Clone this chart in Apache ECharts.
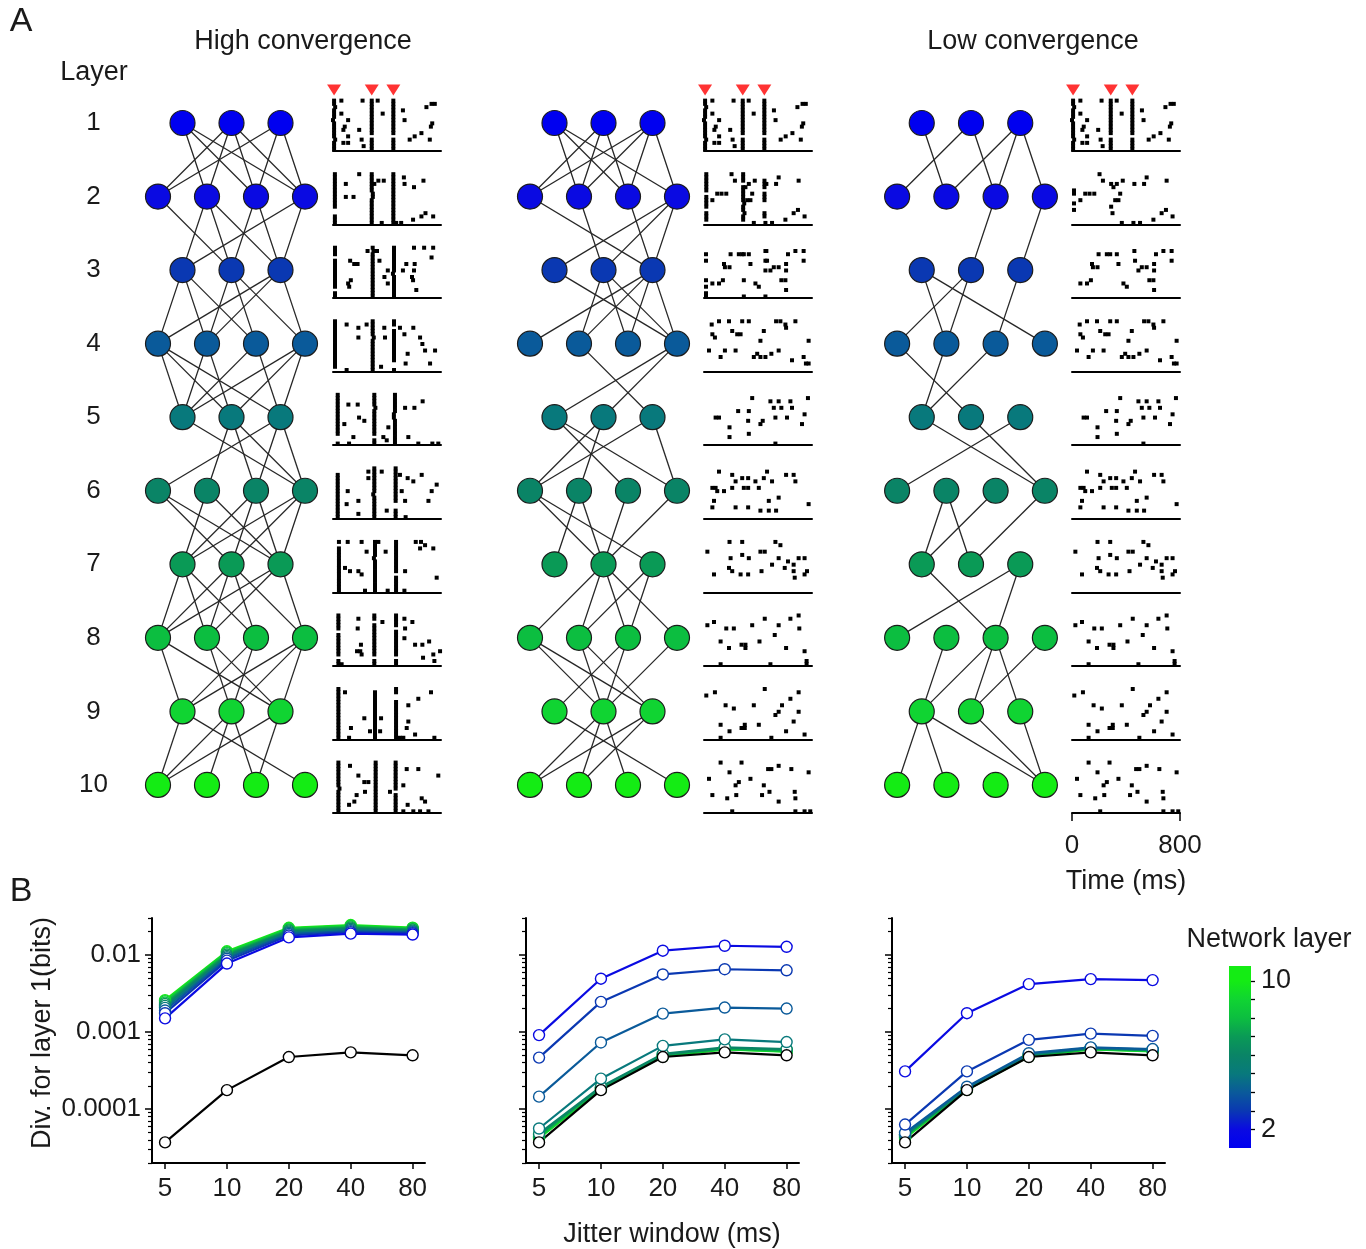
<!DOCTYPE html>
<html>
<head>
<meta charset="utf-8">
<script src="https://cdn.jsdelivr.net/npm/echarts@6/dist/echarts.min.js"></script>
<style>
  html, body { margin: 0; padding: 0; background: #fff; }
  #chart { width: 1366px; height: 1249px; }
</style>
</head>
<body>
<div id="chart"></div>
<script>
// ---------------- data ----------------
const layers = [1, 2, 3, 4, 5, 6, 7, 8, 9, 10];
const nodeCounts = [3, 4, 3, 4, 3, 4, 3, 4, 3, 4];
const layerColors = ['#0000f0', '#0a0ae2', '#0a38b2', '#0a5a9a', '#08797c',
                     '#0a8466', '#0a9a56', '#0cbe40', '#10d432', '#14ec14'];

// connections between consecutive layers: [from node, to node], one list per layer pair
const highEdges = [
  [[0,1],[0,2],[0,3],[1,0],[1,1],[1,2],[1,3],[2,0],[2,2],[2,3]],
  [[0,1],[1,0],[1,1],[1,2],[2,1],[2,2],[3,0],[3,2]],
  [[0,0],[0,1],[0,2],[1,1],[1,2],[1,3],[2,0],[2,1],[2,3]],
  [[0,0],[0,1],[0,2],[1,0],[1,1],[2,0],[2,2],[3,0],[3,1],[3,2]],
  [[0,3],[1,1],[1,2],[1,3],[2,0],[2,2],[2,3]],
  [[0,1],[0,2],[1,0],[1,2],[2,0],[2,1],[2,2],[3,0],[3,1],[3,2]],
  [[0,0],[0,1],[0,2],[1,0],[1,1],[1,2],[1,3],[2,0],[2,1],[2,3]],
  [[0,0],[0,2],[1,1],[1,2],[2,0],[2,1],[3,0],[3,1],[3,2]],
  [[0,0],[0,3],[1,0],[1,1],[1,2],[2,0],[2,2]]
];
const midEdges = [
  [[0,1],[0,2],[0,3],[1,0],[1,1],[1,2],[2,0],[2,1],[2,2],[2,3]],
  [[0,2],[1,1],[2,2],[3,0],[3,1],[3,2]],
  [[0,3],[1,1],[1,2],[1,3],[2,0],[2,1],[2,2],[2,3]],
  [[1,2],[3,0],[3,1]],
  [[0,2],[0,3],[1,0],[1,1],[2,0],[2,3]],
  [[0,1],[0,2],[1,0],[1,1],[2,1],[3,1]],
  [[1,0],[1,1],[1,2],[1,3],[2,1],[2,2]],
  [[0,1],[0,2],[1,1],[1,2],[2,0],[2,1],[3,1]],
  [[0,3],[1,0],[1,1],[1,2],[2,0],[2,1]]
];
const lowEdges = [
  [[0,1],[1,0],[1,2],[2,1],[2,2],[2,3]],
  [[2,1],[3,2]],
  [[0,1],[0,3],[1,0],[1,1],[2,2]],
  [[0,1],[1,0],[2,0]],
  [[0,3],[1,3],[2,0]],
  [[1,0],[1,1],[2,0],[3,1]],
  [[0,2],[2,0],[2,2]],
  [[1,0],[2,0],[2,1],[2,2],[3,1]],
  [[0,0],[0,1],[0,3],[1,3],[2,3]]
];

// stimulus times (ms)
const stimTimes = [8, 287, 447];

// synchronous volleys: times per layer, and per-trial strings (top trial first)
// 'x' spike at volley time, '<' 8 ms early, '>' 8 ms late, '.' no spike
const highVolleyTimes = [
  [8,287,447],[14,287,447],[15,294,452],[15,294,452],[35,306,459],
  [35,306,464],[44,311,467],[40,306,467],[40,311,467],[40,316,464]
];
const highVolleyTrials = [
  ['xx>xxx<xxxxx>xxx','xxxxxxxxxxx.xxxx','xxxxxxxxxxx.xxxx'],
  ['xxxxxxxxxxx..xxx','xxxxxx>>xxxxxxxx','xxxxxxxxxxxxxxxx'],
  ['xxx.xxxxxxxxx.xx','x>xxxxxxxxxxxxxx','xxxxxxxx<xxxxxxx'],
  ['xxxxxxxxxxxxxxx.','xxxxx>xxxxxxxxxx','xx.xxxxxxxxxx..x'],
  ['xxxxxxxxxxxxx..x','xxxx>xxxxxxxx.xx','xxxxxx<<xxxxxxxx'],
  ['..xxxxxxxxxxxxxx','xxxxxxxx<xxxxxxx','xxxxxxxxxxx..xxx'],
  ['x.xxxxxxxxxxxxxx','xxxxx<xxxxxxxxxx','xxxxxxxxxx.xxxxx'],
  ['xxxxx.xxxxxxx.xx','xx.xxxxxxxxxx.xx','xxxx.xxxxxxxx.xx'],
  ['xxxxxxxxxxxxxxxx','.xxxxxxxxxxxxxxx','xx..xxxxxxxxxxxx'],
  ['xxxxxxxx>xxxxxxx','xxxxxxxxxxxxxxxx','xxxxxxxxx.xxxxxx']
];
const midVolleyTimes = [[8,287,447],[17,290,448],[15,295,455]];
const midVolleyTrials = [
  ['xx>xxx<xxxxx>xxx','xxxxxxxxxxx.xxxx','xxxxxxxxxxx.xxxx'],
  ['xxxxxx.xxxx.xxx.','xxx.xxxxx>xx.xx.','..xxx.xxx...xx..'],
  ['..x.x.....x.x.xx','..x.......x....x','.x..x..x.......x']
];
const lowVolleyTimes = [[8,287,447],[15,290,450]];
const lowVolleyTrials = [
  ['xx>xxx<xxxxx>xxx','xxxxxxxxxxx.xxxx','xxxxxxxxxxx.xxxx'],
  ['.....xx..x.x....','...x......x.....','................']
];

// remaining spikes [time ms, trial]
const layer1Spikes = [[62,15],[62,11],[77,6],[87,7],[112,9],[112,4],[77,2],[112,2],[194,6],[212,3],
  [227,1],[219,15],[331,15],[368,11],[530,9],[518,12],[692,13],[730,14],[754,14],[735,8],[725,7],
  [655,5],[605,4],[568,3],[717,3]];
const highSpikes = [
  [[95,12],[95,8],[152,8],[194,15],[306,12],[336,13],[376,13],[361,0],[468,0],[505,0],[530,12],[525,14],[593,1],[655,2],[685,3],[742,2],[670,13],[600,11]],
  [[256,14],[301,14],[326,14],[127,11],[157,10],[182,10],[132,5],[112,4],[120,3],[344,11],[406,8],[381,6],[406,4],[543,10],[518,8],[600,15],[605,10],[600,8],[585,6],[593,5],[617,2],[675,15],[742,15],[730,12]],
  [[101,14],[188,13],[249,14],[188,10],[380,13],[385,10],[496,13],[529,11],[595,13],[645,10],[662,8],[682,6],[756,6],[553,5],[538,2],[719,2],[101,0],[356,1]],
  [[114,12],[183,12],[534,11],[603,11],[664,13],[232,7],[193,8],[84,6],[151,2],[119,0],[373,2],[398,1],[558,2],[410,5],[632,0],[736,0],[780,0]],
  [[262,14],[361,14],[262,12],[109,8],[101,4],[188,5],[188,1],[398,2],[496,13],[553,12],[595,11],[657,13],[731,8],[509,8],[534,5],[707,5],[768,10],[538,0]],
  [[109,15],[212,15],[249,12],[89,7],[126,6],[188,6],[212,5],[237,0],[405,0],[390,12],[336,15],[613,15],[652,15],[682,14],[645,13],[743,13],[534,6],[768,4],[529,0]],
  [[188,14],[183,11],[207,6],[178,4],[202,4],[212,3],[64,0],[366,13],[529,14],[588,13],[534,11],[529,8],[608,6],[662,6],[712,7],[667,2],[743,3],[751,1],[793,4]],
  [[89,14],[232,6],[133,3],[119,0],[274,2],[356,6],[349,2],[558,5],[546,3],[558,10],[632,12],[726,14],[608,1],[751,0],[496,0],[521,0]],
  [[126,14],[188,11],[232,9],[262,9],[175,5],[158,3],[119,2],[237,6],[422,6],[546,13],[632,13],[780,11],[521,8],[657,4],[682,3],[553,2],[521,0],[595,0],[645,0],[707,0]]
];
const lowSpikes = [
  [[204,15],[229,13],[332,12],[376,13],[307,11],[320,7],[344,7],[357,9],[300,3],[369,0],[462,12],[534,12],[553,14],[701,13],[62,7],[98,9],[130,9],[165,9],[455,0],[504,0],[603,1],[664,3],[696,4],[745,2]],
  [[148,10],[197,13],[258,13],[283,13],[332,13],[344,10],[462,14],[467,11],[492,8],[517,9],[553,9],[608,10],[608,8],[622,13],[677,14],[738,14],[738,11],[62,4],[111,4],[140,5],[381,4],[406,3],[573,5],[603,5],[608,2],[155,9],[189,9]],
  [[57,14],[111,15],[185,15],[283,15],[332,15],[534,15],[566,15],[603,14],[608,13],[677,15],[62,11],[81,10],[209,12],[246,11],[271,11],[443,12],[418,9],[37,6],[123,4],[155,6],[234,6],[369,4],[394,5],[418,4],[455,4],[499,5],[553,6],[652,3],[738,4],[755,2],[775,2],[775,9]],
  [[357,14],[492,13],[553,13],[640,13],[770,14],[517,11],[573,11],[652,11],[253,10],[332,10],[111,8],[86,8],[327,7],[529,8],[745,9],[726,6],[189,5],[418,6],[332,3],[189,2],[529,0],[435,7],[615,8]],
  [[111,14],[209,13],[234,11],[283,12],[327,12],[381,11],[443,12],[467,14],[504,11],[608,13],[664,13],[677,11],[62,9],[86,9],[98,8],[148,8],[209,9],[295,9],[327,9],[406,9],[480,5],[553,6],[74,5],[62,3],[234,3],[327,3],[418,2],[480,2],[534,2],[775,4]],
  [[25,12],[189,15],[283,15],[529,15],[566,14],[283,11],[332,10],[197,10],[418,12],[450,12],[553,10],[185,7],[209,6],[504,8],[622,9],[664,8],[701,10],[745,10],[664,6],[763,6],[74,5],[271,5],[327,5],[426,6],[598,7],[672,4],[745,5]],
  [[25,12],[74,13],[165,11],[221,11],[357,12],[450,14],[553,12],[640,14],[701,15],[706,11],[524,9],[123,7],[185,5],[278,6],[307,6],[307,5],[411,7],[492,0],[608,5],[745,4],[123,0],[760,1],[760,0]],
  [[17,13],[81,14],[160,10],[221,9],[369,10],[450,15],[553,8],[578,10],[640,12],[701,14],[701,8],[529,7],[123,4],[189,2],[278,3],[302,4],[302,3],[406,4],[499,0],[608,2],[745,1],[123,0],[664,5]],
  [[123,15],[278,15],[37,10],[189,12],[234,8],[258,9],[344,10],[475,13],[499,13],[553,14],[647,13],[775,12],[62,5],[172,4],[239,5],[443,8],[485,6],[430,5],[672,6],[677,4],[553,3],[209,0],[677,0],[745,0],[787,0]]
];
const timeTicks = [0, 800];

// divergence (bits) vs jitter window
const jitterWindows = [5, 10, 20, 40, 80];
const baselineDiv = [3.7e-5, 1.76e-4, 4.73e-4, 5.44e-4, 4.98e-4];
const highDiv = [
  [0.00150, 0.0077, 0.0168, 0.0188, 0.0183],
  [0.00175, 0.0084, 0.0178, 0.0196, 0.0190],
  [0.00190, 0.0089, 0.0186, 0.0203, 0.0196],
  [0.00205, 0.0093, 0.0193, 0.0210, 0.0201],
  [0.00218, 0.0097, 0.0200, 0.0218, 0.0206],
  [0.00230, 0.0101, 0.0207, 0.0225, 0.0212],
  [0.00240, 0.0105, 0.0213, 0.0232, 0.0217],
  [0.00250, 0.0108, 0.0219, 0.0238, 0.0221],
  [0.00258, 0.0111, 0.0224, 0.0243, 0.0225]
];
const midDiv = [
  [9.1e-4, 4.9e-3, 1.13e-2, 1.31e-2, 1.27e-2],
  [4.65e-4, 2.45e-3, 5.56e-3, 6.5e-3, 6.3e-3],
  [1.45e-4, 7.3e-4, 1.73e-3, 2.07e-3, 2.01e-3],
  [5.6e-5, 2.48e-4, 6.6e-4, 8.0e-4, 7.4e-4],
  [4.8e-5, 1.95e-4, 5.2e-4, 6.3e-4, 6.0e-4],
  [4.6e-5, 1.9e-4, 5.05e-4, 6.15e-4, 5.85e-4],
  [4.4e-5, 1.86e-4, 4.95e-4, 6.05e-4, 5.7e-4],
  [4.3e-5, 1.83e-4, 4.9e-4, 6.0e-4, 5.6e-4],
  [4.2e-5, 1.8e-4, 4.8e-4, 5.95e-4, 5.55e-4]
];
const lowDiv = [
  [3.08e-4, 1.75e-3, 4.17e-3, 4.84e-3, 4.70e-3],
  [6.3e-5, 3.08e-4, 7.9e-4, 9.5e-4, 8.9e-4],
  [4.9e-5, 1.95e-4, 5.3e-4, 6.3e-4, 6.0e-4],
  [4.7e-5, 1.9e-4, 5.15e-4, 6.2e-4, 5.9e-4],
  [4.6e-5, 1.87e-4, 5.05e-4, 6.15e-4, 5.85e-4],
  [4.5e-5, 1.85e-4, 5.0e-4, 6.1e-4, 5.8e-4],
  [4.4e-5, 1.83e-4, 4.9e-4, 6.05e-4, 5.7e-4],
  [4.3e-5, 1.8e-4, 4.85e-4, 6.0e-4, 5.65e-4],
  [4.2e-5, 1.78e-4, 4.8e-4, 5.95e-4, 5.6e-4]
];
const divMajorTicks = [1e-4, 1e-3, 1e-2];
const divMinorTicks = [2e-5, 3e-5, 4e-5, 5e-5, 6e-5, 7e-5, 8e-5, 9e-5,
  2e-4, 3e-4, 4e-4, 5e-4, 6e-4, 7e-4, 8e-4, 9e-4,
  2e-3, 3e-3, 4e-3, 5e-3, 6e-3, 7e-3, 8e-3, 9e-3, 2e-2, 3e-2];
const colorbarTicks = [2, 3, 4, 5, 6, 7, 8, 9, 10];
const colorbarLabels = [2, 10];

// ---------------- layout ----------------
const FONT = 'Arial, "Liberation Sans", Helvetica, sans-serif';
const INK = '#1a1a1a';
const TICK_FS = 26, NAME_FS = 27;
const LAYER_TOP = 123, LAYER_STEP = 73.55;
const layerY = L => LAYER_TOP + (L - 1) * LAYER_STEP;
const columns = [
  { netLeft: 133.5, netWidth: 196, rasterLeft: 333, edges: highEdges },
  { netLeft: 505.5, netWidth: 196, rasterLeft: 704, edges: midEdges },
  { netLeft: 872.5, netWidth: 197, rasterLeft: 1072, edges: lowEdges }
];
const RASTER_W = 108;

const grids = [], xAxes = [], yAxes = [], series = [];
function addGrid(g, xa, ya) {
  grids.push(Object.assign({ outerBoundsMode: 'none', containLabel: false }, g));
  const gi = grids.length - 1;
  xa.gridIndex = gi; ya.gridIndex = gi;
  xAxes.push(xa); yAxes.push(ya);
  return { g: gi, x: xAxes.length - 1, y: yAxes.length - 1 };
}
const hidden = extra => Object.assign({ show: false }, extra);

function volleySpikes(times, trialStrings) {
  const out = [];
  trialStrings.forEach((s, e) => {
    for (let i = 0; i < s.length; i++) {
      const ch = s[i];
      if (ch === '.') continue;
      const shift = ch === '<' ? -8 : ch === '>' ? 8 : 0;
      out.push([times[e] + shift, s.length - 1 - i]);
    }
  });
  return out;
}

columns.forEach((col, ci) => {
  // ---- network diagram ----
  const isFirst = ci === 0;
  const net = addGrid(
    { left: col.netLeft, top: LAYER_TOP - LAYER_STEP / 2, width: col.netWidth, height: LAYER_STEP * 10 },
    hidden({ type: 'value', min: -0.5, max: 3.5 }),
    {
      type: 'value', min: 0.5, max: 10.5, inverse: true, show: isFirst,
      axisLine: { show: false }, axisTick: { show: false }, splitLine: { show: false },
      axisLabel: { show: isFirst, customValues: layers, margin: 40, align: 'center',
        fontSize: TICK_FS, fontFamily: FONT, color: INK }
    }
  );
  const nodeX = (L, i) => i + (nodeCounts[L - 1] === 3 ? 0.5 : 0);
  const links = [];
  col.edges.forEach((pairs, k) => {
    const L = k + 1;
    pairs.forEach(([a, b]) => links.push({ coords: [[nodeX(L, a), L], [nodeX(L + 1, b), L + 1]] }));
  });
  series.push({
    type: 'lines', coordinateSystem: 'cartesian2d', xAxisIndex: net.x, yAxisIndex: net.y,
    data: links, silent: true, z: 2,
    lineStyle: { color: '#262626', width: 1.3, opacity: 1 }
  });
  const nodes = [];
  layers.forEach(L => {
    for (let i = 0; i < nodeCounts[L - 1]; i++) {
      nodes.push({ value: [nodeX(L, i), L], itemStyle: { color: layerColors[L - 1] } });
    }
  });
  series.push({
    type: 'scatter', xAxisIndex: net.x, yAxisIndex: net.y, data: nodes, silent: true, z: 3,
    symbolSize: 25, itemStyle: { borderColor: '#1c1c1c', borderWidth: 1.2, opacity: 1 }
  });

  // ---- stimulus markers ----
  const stim = addGrid(
    { left: col.rasterLeft, top: 83, width: RASTER_W, height: 14 },
    hidden({ type: 'value', min: 0, max: 800 }),
    hidden({ type: 'value', min: -1, max: 1 })
  );
  series.push({
    type: 'scatter', xAxisIndex: stim.x, yAxisIndex: stim.y, silent: true,
    data: stimTimes.map(t => [t, 0]), symbol: 'triangle', symbolRotate: 180,
    symbolSize: [14, 11], itemStyle: { color: '#ff0000' }
  });

  // ---- spike rasters ----
  layers.forEach(L => {
    const lastRight = ci === 2 && L === 10;
    const r = addGrid(
      { left: col.rasterLeft, top: layerY(L) - 24, width: RASTER_W, height: 52 },
      {
        type: 'value', min: 0, max: 800,
        axisLine: { show: true, onZero: false, lineStyle: { color: '#000', width: 2 } },
        axisTick: { show: lastRight, customValues: timeTicks, length: 8, lineStyle: { color: '#000', width: 1.5 } },
        axisLabel: { show: lastRight, customValues: timeTicks, margin: 20, fontSize: TICK_FS, fontFamily: FONT, color: INK },
        splitLine: { show: false },
        name: lastRight ? 'Time (ms)' : '', nameLocation: 'middle', nameGap: 55,
        nameTextStyle: { fontSize: NAME_FS, fontFamily: FONT, color: INK }
      },
      hidden({ type: 'value', min: -0.5, max: 15.5 })
    );
    let spikes;
    if (L === 1) {
      spikes = volleySpikes(highVolleyTimes[0], highVolleyTrials[0]).concat(layer1Spikes);
    } else if (ci === 0) {
      spikes = volleySpikes(highVolleyTimes[L - 1], highVolleyTrials[L - 1]).concat(highSpikes[L - 2]);
    } else {
      spikes = lowSpikes[L - 2].slice();
      const vt = ci === 1 ? midVolleyTimes : lowVolleyTimes;
      const vs = ci === 1 ? midVolleyTrials : lowVolleyTrials;
      if (L <= vt.length) spikes = spikes.concat(volleySpikes(vt[L - 1], vs[L - 1]));
    }
    series.push({
      type: 'scatter', xAxisIndex: r.x, yAxisIndex: r.y, data: spikes, silent: true,
      symbol: 'rect', symbolSize: [4, 4], itemStyle: { color: '#000', opacity: 1 }
    });
  });
});

// ---- divergence panels ----
const divGridLefts = [152, 526, 892];
const divSets = [highDiv, midDiv, lowDiv];
divGridLefts.forEach((left, pi) => {
  const showLabels = pi === 0;
  const d = addGrid(
    { left: left, top: 918, width: 273, height: 245 },
    {
      type: 'log', logBase: 2, min: 4.32, max: 91.9,
      axisLine: { show: true, onZero: false, lineStyle: { color: '#000', width: 2 } },
      axisTick: { show: true, customValues: jitterWindows, length: 6, lineStyle: { color: '#000', width: 1.5 } },
      axisLabel: { show: true, customValues: jitterWindows, margin: 13, fontSize: TICK_FS, fontFamily: FONT, color: INK,
        formatter: v => String(Math.round(v)) },
      splitLine: { show: false }, minorTick: { show: false }
    },
    {
      type: 'log', logBase: 10, min: 2e-5, max: 0.03, position: 'left',
      axisLine: { show: true, onZero: false, lineStyle: { color: '#000', width: 2 } },
      axisTick: { show: true, customValues: divMajorTicks, length: 7, lineStyle: { color: '#000', width: 1.5 } },
      axisLabel: { show: showLabels, customValues: divMajorTicks, margin: 11, fontSize: TICK_FS, fontFamily: FONT, color: INK,
        formatter: v => String(+(+v).toPrecision(1)) },
      splitLine: { show: false }
    }
  );
  // minor ticks
  yAxes.push({
    gridIndex: d.g, type: 'log', logBase: 10, min: 2e-5, max: 0.03, position: 'left', offset: 0,
    axisLine: { show: false },
    axisTick: { show: true, customValues: divMinorTicks, length: 4, lineStyle: { color: '#000', width: 1.2 } },
    axisLabel: { show: false }, splitLine: { show: false }
  });
  const set = divSets[pi];
  for (let k = set.length - 1; k >= 0; k--) {
    const c = layerColors[k + 1];
    series.push({
      type: 'line', xAxisIndex: d.x, yAxisIndex: d.y, silent: true,
      data: jitterWindows.map((w, i) => [w, set[k][i]]),
      symbol: 'circle', symbolSize: 11, showSymbol: true,
      lineStyle: { color: c, width: 2.2 },
      itemStyle: { color: '#fff', borderColor: c, borderWidth: 1.4 }
    });
  }
  series.push({
    type: 'line', xAxisIndex: d.x, yAxisIndex: d.y, silent: true,
    data: jitterWindows.map((w, i) => [w, baselineDiv[i]]),
    symbol: 'circle', symbolSize: 11, showSymbol: true,
    lineStyle: { color: '#000', width: 2.2 },
    itemStyle: { color: '#fff', borderColor: '#000', borderWidth: 1.4 }
  });
});

// ---- colour bar for network layer ----
const cbMin = 1, cbMax = 10.8;
const cb = addGrid(
  { left: 1229, top: 966, width: 22, height: 182 },
  hidden({ type: 'category', data: ['layer'] }),
  {
    type: 'value', min: cbMin, max: cbMax, position: 'right',
    axisLine: { show: false },
    axisTick: { show: true, customValues: colorbarTicks, length: 4, lineStyle: { color: '#000', width: 1.3 } },
    axisLabel: { show: true, customValues: colorbarLabels, margin: 10, fontSize: 27, fontFamily: FONT, color: INK },
    splitLine: { show: false }
  }
);
const cbStops = layerColors.map((c, i) => ({ offset: (layers[i] - cbMin) / (cbMax - cbMin), color: c }));
cbStops.push({ offset: 1, color: layerColors[layerColors.length - 1] });
series.push({
  type: 'bar', xAxisIndex: cb.x, yAxisIndex: cb.y, stack: 'cb', silent: true,
  data: [cbMin], barWidth: '100%', itemStyle: { color: 'rgba(0,0,0,0)' }
});
series.push({
  type: 'bar', xAxisIndex: cb.x, yAxisIndex: cb.y, stack: 'cb', silent: true,
  data: [cbMax - cbMin], barWidth: '100%',
  itemStyle: { color: new echarts.graphic.LinearGradient(0, 1, 0, 0, cbStops) }
});

// ---- text ----
const label = (text, x, y, size, extra) => Object.assign({
  type: 'text', x: x, y: y, silent: true,
  style: { text: text, fontSize: size, fontFamily: FONT, fill: INK, align: 'center', verticalAlign: 'middle' }
}, extra || {});
const graphics = [
  label('A', 21, 22, 34),
  label('B', 21, 892, 34),
  label('High convergence', 303, 42, NAME_FS),
  label('Low convergence', 1033, 42, NAME_FS),
  label('Layer', 94, 73, NAME_FS),
  label('Div. for layer 1(bits)', 43, 1033, NAME_FS, { rotation: Math.PI / 2 }),
  label('Jitter window (ms)', 672, 1235, NAME_FS),
  label('Network layer', 1269, 940, NAME_FS)
];

const chart = echarts.init(document.getElementById('chart'), null, { renderer: 'canvas', width: 1366, height: 1249 });
chart.setOption({
  animation: false,
  backgroundColor: '#fff',
  grid: grids,
  xAxis: xAxes,
  yAxis: yAxes,
  series: series,
  graphic: graphics
});
</script>
</body>
</html>
